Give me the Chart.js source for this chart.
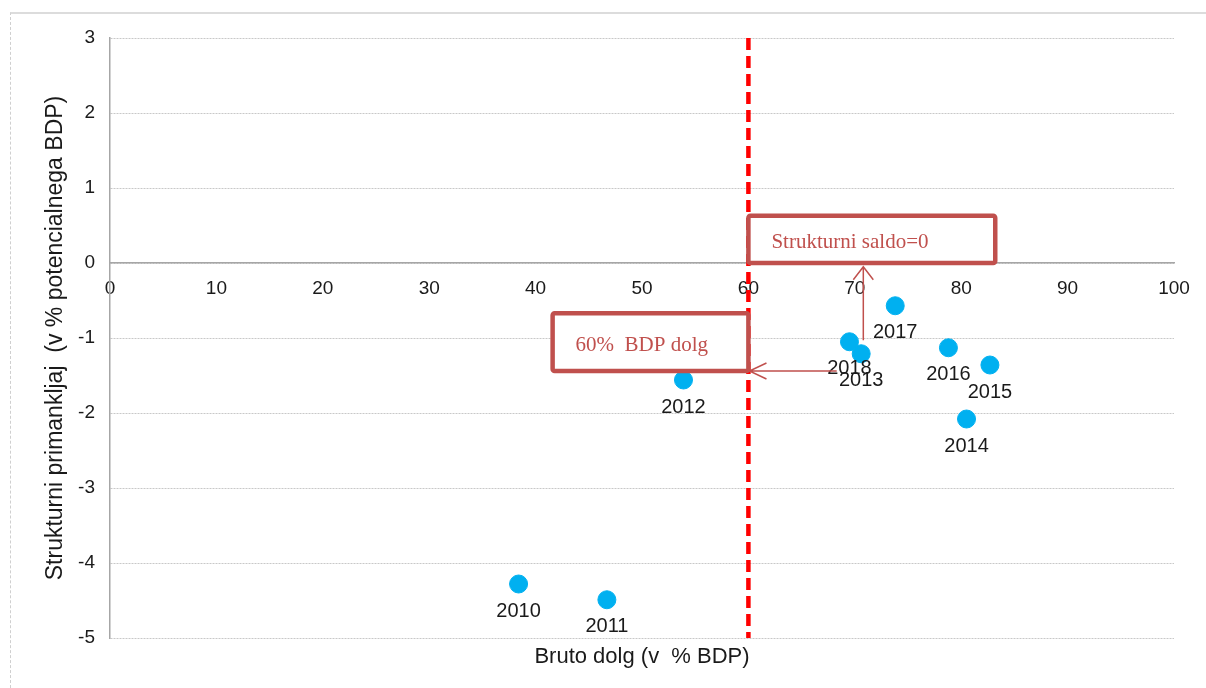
<!DOCTYPE html>
<html>
<head>
<meta charset="utf-8">
<script src="https://cdn.jsdelivr.net/npm/chart.js@4/dist/chart.umd.min.js"></script>
<style>
  html, body { margin: 0; padding: 0; background: #fff; }
  #wrap { position: relative; width: 1206px; height: 688px; overflow: hidden; }
  #frame { position: absolute; left: 10px; top: 12px; right: -5px; bottom: -5px;
           border-top: 2px solid #dcdcdc; border-left: 1px dashed #cfcfcf; }
  #c { position: absolute; left: 0; top: 0; }
</style>
</head>
<body>
<div id="wrap">
  <div id="frame"></div>
  <canvas id="c" width="1206" height="688"></canvas>
</div>
<script>
// years and values
const years = ['2010', '2011', '2012', '2013', '2014', '2015', '2016', '2017', '2018'];
const debt = [38.4, 46.7, 53.9, 70.6, 80.5, 82.7, 78.8, 73.8, 69.5];          // Bruto dolg (% BDP)
const primary = [-4.28, -4.49, -1.56, -1.21, -2.08, -1.36, -1.13, -0.57, -1.05]; // strukturni primanjkljaj

const xTicks = [0, 10, 20, 30, 40, 50, 60, 70, 80, 90, 100];
const yTicks = [3, 2, 1, 0, -1, -2, -3, -4, -5];

const debtLimit = 60;

// annotation boxes / arrows in data units
const saldoBox = { x0: 60, x1: 83.2, y0: 0.63, y1: 0, text: 'Strukturni saldo=0' };
const limitBox = { x0: 41.6, x1: 60, y0: -0.67, y1: -1.44, text: '60%  BDP dolg' };
const upArrow = { x: 70.8, yFrom: -1.03, yTo: -0.05 };
const leftArrow = { y: -1.44, xFrom: 68.3, xTo: 60.1 };

const boxColor = '#c0504d';

const extras = {
  id: 'extras',
  afterDatasetsDraw(chart) {
    const { ctx, scales: { x, y } } = chart;
    ctx.save();

    // year labels under the points
    const meta = chart.getDatasetMeta(0);
    ctx.font = '20px "Liberation Sans", Arial, sans-serif';
    ctx.fillStyle = '#1a1a1a';
    ctx.textAlign = 'center';
    ctx.textBaseline = 'middle';
    meta.data.forEach((pt, i) => {
      ctx.fillText(years[i], pt.x, pt.y + 27);
    });

    // arrows
    ctx.strokeStyle = boxColor;
    ctx.lineWidth = 1.5;
    const ax = x.getPixelForValue(upArrow.x);
    const ay0 = y.getPixelForValue(upArrow.yFrom);
    const ay1 = y.getPixelForValue(upArrow.yTo);
    ctx.beginPath();
    ctx.moveTo(ax, ay0); ctx.lineTo(ax, ay1);
    ctx.moveTo(ax - 10, ay1 + 13); ctx.lineTo(ax, ay1); ctx.lineTo(ax + 10, ay1 + 13);
    ctx.stroke();

    const by = y.getPixelForValue(leftArrow.y);
    const bx0 = x.getPixelForValue(leftArrow.xFrom);
    const bx1 = x.getPixelForValue(leftArrow.xTo);
    ctx.beginPath();
    ctx.moveTo(bx0, by); ctx.lineTo(bx1, by);
    ctx.moveTo(bx1 + 17, by - 8); ctx.lineTo(bx1, by); ctx.lineTo(bx1 + 17, by + 8);
    ctx.stroke();

    // text boxes
    [saldoBox, limitBox].forEach(b => {
      const l = x.getPixelForValue(b.x0), r = x.getPixelForValue(b.x1);
      const t = y.getPixelForValue(b.y0), btm = y.getPixelForValue(b.y1);
      ctx.fillStyle = '#fff';
      ctx.fillRect(l, t, r - l, btm - t);
      ctx.lineWidth = 4.5;
      ctx.strokeStyle = boxColor;
      ctx.beginPath();
      ctx.roundRect(l, t, r - l, btm - t, 2);
      ctx.stroke();
      ctx.fillStyle = boxColor;
      ctx.font = '21px "Liberation Serif", "Times New Roman", serif';
      ctx.textAlign = 'left';
      ctx.textBaseline = 'middle';
      ctx.fillText(b.text, l + 23, (t + btm) / 2 + 3);
    });

    ctx.restore();
  }
};

new Chart(document.getElementById('c'), {
  type: 'scatter',
  data: {
    datasets: [
      {
        label: 'leta',
        data: debt.map((v, i) => ({ x: v, y: primary[i] })),
        backgroundColor: '#00b0f0',
        borderColor: '#00b0f0',
        pointRadius: 9,
        pointHoverRadius: 9,
        xAxisID: 'x',
        yAxisID: 'y'
      },
      {
        label: '60% BDP',
        data: [{ x: debtLimit, y: yTicks[0] }, { x: debtLimit, y: yTicks[yTicks.length - 1] }],
        showLine: true,
        borderColor: '#ff0000',
        borderWidth: 4.5,
        borderDash: [12, 6],
        pointRadius: 0,
        xAxisID: 'x',
        yAxisID: 'y'
      }
    ]
  },
  options: {
    responsive: false,
    animation: false,
    layout: { padding: { top: 38, right: 32, left: 0, bottom: 0 } },
    plugins: { legend: { display: false }, tooltip: { enabled: false } },
    scales: {
      x: {
        type: 'linear',
        position: { y: 0 },
        min: 0,
        max: 100,
        afterBuildTicks: s => { s.ticks = xTicks.map(v => ({ value: v })); },
        ticks: { color: '#1a1a1a', padding: 6, maxRotation: 0,
                 font: { family: '"Liberation Sans", Arial, sans-serif', size: 19 } },
        grid: { display: false },
        border: { display: true, color: '#a6a6a6', width: 1.5 }
      },
      x2: {
        type: 'linear',
        position: 'bottom',
        ticks: { display: false },
        grid: { display: false },
        border: { display: false },
        afterFit: s => { s.height = 50; },
        title: { display: true, text: 'Bruto dolg (v  % BDP)', color: '#1a1a1a',
                 padding: { top: 0, bottom: 18 },
                 font: { family: '"Liberation Sans", Arial, sans-serif', size: 22 } }
      },
      y: {
        type: 'linear',
        min: -5,
        max: 3,
        afterBuildTicks: s => { s.ticks = yTicks.map(v => ({ value: v })); },
        afterFit: s => { s.width = 110; },
        ticks: { color: '#1a1a1a', padding: 15,
                 font: { family: '"Liberation Sans", Arial, sans-serif', size: 19 } },
        grid: { color: '#c8c8c8', lineWidth: 1, drawTicks: false },
        border: { display: true, color: '#a6a6a6', width: 1.5, dash: [2, 1] },
        title: { display: true, text: 'Strukturni primankljaj  (v % potencialnega BDP)', color: '#1a1a1a',
                 padding: { top: 42, bottom: 0 },
                 font: { family: '"Liberation Sans", Arial, sans-serif', size: 23 } }
      }
    }
  },
  plugins: [extras]
});
</script>
</body>
</html>
